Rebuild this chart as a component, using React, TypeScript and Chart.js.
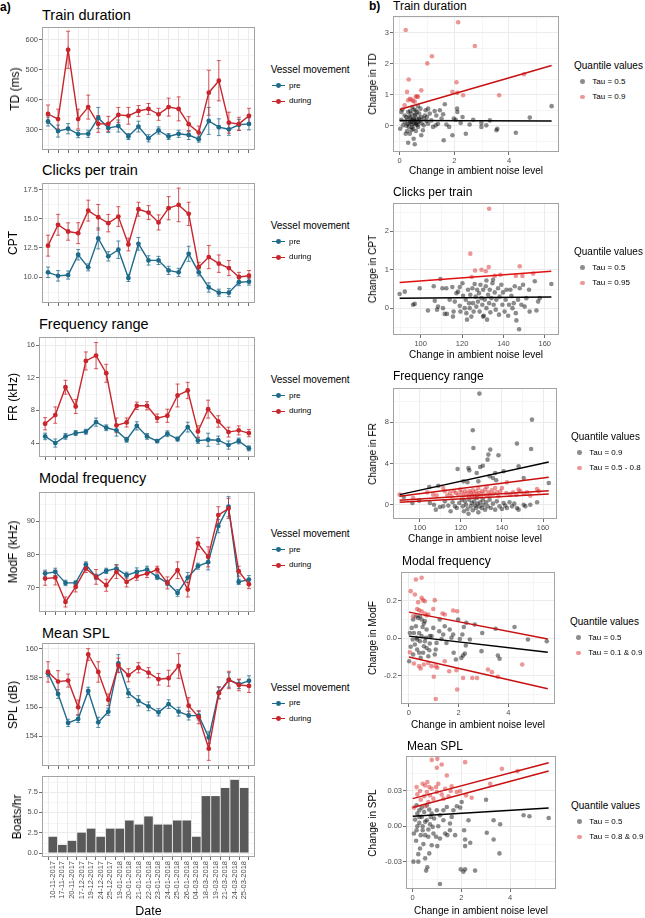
import React, { useEffect, useRef } from 'react';
import { Chart, registerables } from 'chart.js';

Chart.register(...registerables);

const FONT = '"Liberation Sans", Arial, Helvetica, sans-serif';
const GRID = '#EBEBEB';
const GRID_MINOR = '#F5F5F5';
const BORDER = '#A3A3A3';
const TICK_MARK = '#6E6E6E';
const TICK_TEXT = '#4D4D4D';
const PRE = '#1D6A8B';
const DURING = '#C8252C';
const GRAY_PT = 'rgba(0,0,0,0.45)';
const RED_PT = 'rgba(220,45,45,0.5)';
const FIT_RED = '#C81010';
const FIT_BLACK = '#000000';
const BAR = '#595959';

// ---------------- a) per-date series ----------------
const dates = [
  '10-11-2017', '17-11-2017', '20-11-2017', '17-12-2017', '19-12-2017', '24-12-2017', '25-12-2017',
  '19-01-2018', '20-01-2018', '21-01-2018', '22-01-2018', '23-01-2018', '24-01-2018', '25-01-2018',
  '26-01-2018', '04-03-2018', '18-03-2018', '19-03-2018', '21-03-2018', '24-03-2018', '25-03-2018',
];

const tdPre = [328, 296, 304, 286, 287, 340, 306, 313, 278, 311, 272, 298, 278, 287, 283, 269, 330, 309, 302, 317, 320];
const tdPreErr = [15, 20, 17, 12, 12, 35, 15, 20, 10, 18, 12, 12, 10, 12, 15, 10, 45, 28, 20, 18, 20];
const tdDuring = [353, 336, 567, 336, 376, 320, 320, 350, 347, 363, 370, 352, 376, 370, 319, 291, 424, 464, 324, 320, 347];
const tdDuringErr = [30, 33, 62, 33, 40, 28, 25, 25, 28, 18, 18, 20, 30, 40, 25, 22, 75, 67, 35, 22, 25];
const tdTicks = [300, 400, 500, 600];

const cptPre = [10.4, 10.1, 10.17, 11.92, 10.83, 13.32, 11.78, 12.35, 9.91, 12.86, 11.43, 11.43, 10.57, 10.4, 12.0, 10.4, 9.1, 8.65, 8.65, 9.55, 9.6];
const cptPreErr = [0.45, 0.45, 0.35, 0.45, 0.3, 0.9, 0.4, 0.75, 0.3, 0.55, 0.4, 0.35, 0.35, 0.35, 0.65, 0.3, 0.4, 0.3, 0.35, 0.3, 0.3];
const cptDuring = [12.7, 14.5, 13.92, 13.78, 15.72, 15.15, 14.64, 15.21, 12.8, 15.84, 15.55, 14.7, 15.93, 16.21, 15.44, 10.86, 11.72, 11.15, 10.77, 10.0, 10.11];
const cptDuringErr = [0.9, 0.9, 0.75, 0.9, 0.9, 1.1, 0.75, 0.85, 0.55, 0.6, 0.6, 0.65, 1.0, 1.45, 1.0, 0.4, 1.0, 0.75, 0.65, 0.4, 0.45];
const cptTicks = [10, 12.5, 15, 17.5];

const frPre = [4.81, 4.0, 4.81, 5.22, 5.38, 6.56, 5.87, 5.55, 4.4, 6.1, 4.81, 4.24, 5.14, 4.49, 5.95, 4.3, 4.4, 4.35, 3.75, 4.25, 3.35];
const frPreErr = [0.4, 0.5, 0.35, 0.3, 0.3, 0.5, 0.35, 0.7, 0.3, 0.5, 0.35, 0.2, 0.35, 0.25, 0.6, 0.35, 0.8, 0.5, 0.5, 0.35, 0.3];
const frDuring = [6.36, 7.42, 10.83, 8.47, 14.05, 14.7, 12.54, 6.16, 6.52, 8.56, 8.56, 7.05, 7.34, 9.82, 10.43, 5.42, 8.15, 6.64, 5.34, 5.55, 5.22];
const frDuringErr = [0.75, 1.0, 0.85, 0.85, 1.1, 1.6, 1.1, 0.9, 0.55, 0.45, 0.5, 0.5, 0.8, 1.4, 1.0, 0.7, 1.1, 0.7, 0.6, 0.55, 0.45];
const frTicks = [4, 8, 12, 16];

const modfPre = [74.3, 74.8, 71.5, 71.5, 77.0, 73.3, 75.1, 75.8, 73.8, 74.8, 75.5, 73.3, 71.5, 68.5, 73.1, 76.5, 77.7, 88.5, 94.3, 71.8, 72.5];
const modfPreErr = [1.0, 1.1, 0.8, 0.6, 0.8, 0.8, 0.8, 1.2, 0.9, 1.2, 1.0, 0.8, 0.8, 1.0, 1.5, 0.9, 2.3, 2.0, 3.0, 0.8, 1.2];
const modfDuring = [72.8, 73.1, 65.8, 70.3, 75.8, 73.3, 70.8, 74.8, 71.8, 73.5, 74.3, 75.5, 71.5, 75.3, 69.5, 83.3, 79.3, 91.8, 93.8, 75.0, 71.1];
const modfDuringErr = [2.0, 2.2, 1.5, 1.5, 1.2, 2.2, 1.8, 2.0, 1.5, 1.2, 1.2, 1.0, 1.8, 2.5, 2.2, 1.8, 3.0, 2.5, 3.0, 1.5, 1.3];
const modfTicks = [70, 80, 90];

const splPre = [158.32, 156.89, 154.91, 155.18, 157.11, 154.95, 155.68, 159.0, 156.95, 156.43, 156.05, 155.64, 156.2, 155.68, 155.41, 155.41, 153.9, 157.0, 157.86, 157.57, 157.8];
const splPreErr = [0.2, 0.3, 0.25, 0.25, 0.25, 0.35, 0.25, 0.6, 0.3, 0.35, 0.3, 0.25, 0.3, 0.3, 0.3, 0.3, 0.4, 0.4, 0.5, 0.3, 0.35];
const splDuring = [158.41, 157.75, 157.82, 155.98, 159.61, 158.41, 156.5, 158.86, 158.18, 158.7, 158.36, 157.91, 157.98, 158.82, 156.09, 155.3, 153.14, 156.95, 157.86, 157.52, 157.45];
const splDuringErr = [0.7, 0.75, 0.45, 0.5, 0.4, 0.7, 0.4, 0.5, 0.45, 0.35, 0.35, 0.4, 0.55, 0.85, 0.55, 0.45, 0.8, 0.4, 0.6, 0.4, 0.45];
const splTicks = [154, 156, 158, 160];

const boatsPerHour = [2, 1, 1.5, 2.5, 3, 2, 3, 3, 4, 3.5, 4.5, 3.5, 3.5, 4, 4, 2, 7, 7, 8, 9, 8];
const boatTicks = [0, 2.5, 5, 7.5];

// ---------------- b) quantile regressions ----------------
type P = [number, number];

const tdGray: P[] = [
  [0.02, -0.10], [0.06, 0.19], [0.12, 0.01], [0.18, 0.12], [0.24, 0.28], [0.31, 0.44], [0.43, 0.39], [0.49, 0.23],
  [0.55, 0.33], [0.61, 0.09], [0.63, 0.44], [0.71, 0.39], [0.37, 0.09], [0.49, -0.10], [0.59, -0.17], [0.27, -0.17],
  [0.18, 0.33], [0.55, 0.15], [0.63, 0.23], [0.76, 0.55], [0.92, 0.33], [0.98, 0.15], [0.43, 0.17], [0.34, -0.04],
  [0.06, 0.44], [0.10, 0.52], [0.46, 0.60], [0.67, 0.63], [0.59, 0.04], [0.39, 0.26], [0.46, 0.04], [1.34, 0.33],
  [1.53, 0.23], [0.88, 0.23], [1.04, 0.06], [0.79, 0.28], [0.27, 0.19], [0.71, 0.23], [0.51, 0.52], [1.59, 0.37],
  [1.28, 0.47], [2.56, 0.04], [5.56, 0.63], [4.76, 0.26], [4.25, -0.23], [3.54, -0.15], [3.57, -0.10], [3.30, 0.17],
  [3.17, 0.01], [2.99, 0.09], [2.99, -0.04], [2.69, 0.19], [2.42, -0.26], [2.30, 0.28], [2.23, 0.09], [2.10, 0.55],
  [2.11, 0.44], [1.93, -0.31], [1.98, 0.23], [2.05, 0.19], [1.65, 0.69], [1.61, -0.47], [1.71, 0.04], [1.81, -0.04],
  [1.47, 0.50], [1.40, 0.06], [1.32, 0.01], [1.22, -0.04], [1.16, 0.17], [1.10, 0.39], [1.04, 0.55], [0.95, 0.50],
  [0.88, 0.01], [0.79, -0.31], [0.73, 0.17], [0.67, -0.04], [0.55, -0.60], [0.51, -0.42], [0.31, -0.55], [0.22, -0.26],
  [0.37, -0.26], [0.43, -0.15], [0.35, 0.30], [0.41, 0.12], [0.53, 0.07], [0.57, 0.36], [0.65, 0.02], [0.29, 0.05],
  [0.45, -0.05], [0.69, 0.12], [0.52, 0.20], [0.38, 0.47], [0.58, 0.50], [0.25, 0.00], [0.80, 0.08], [0.85, -0.15],
  [1.00, 0.28],
];
const tdRed: P[] = [
  [0.22, 3.09], [2.14, 3.34], [2.75, 2.57], [1.18, 2.24], [1.01, 2.01], [0.33, 1.49], [0.27, 1.09], [0.79, 1.14],
  [1.93, 1.09], [2.08, 1.40], [2.11, 1.06], [2.32, 0.98], [3.64, 0.98], [4.55, 1.66], [0.31, 0.82], [0.43, 0.84],
  [0.59, 0.93], [0.63, 0.95], [0.49, 0.80], [0.18, 0.66], [0.37, 0.87], [0.67, 0.93], [0.55, 0.77],
];
const tdFitMedian: P[] = [[0, 0.17], [5.56, 0.15]];
const tdFitUpper: P[] = [[0, 0.52], [5.56, 1.94]];

const cptGray: P[] = [
  [89.8, 0.37], [92.3, 0.43], [96.3, 0.09], [97.1, 0.11], [99.5, 0.52], [103.5, -0.06], [106.3, 0.57], [106.8, 0.19],
  [107.9, -0.04], [108.4, 0.04], [109.5, 0.76], [110.5, 0.52], [110.8, 0.0], [111.6, -0.15], [112.4, 0.52], [112.7, -0.15],
  [114.0, 0.22], [115.3, 0.55], [115.6, -0.22], [115.9, -0.09], [116.5, 0.17], [117.3, 0.39], [118.1, 0.43], [118.9, 0.55],
  [119.2, -0.09], [120.2, 0.65], [120.5, 0.32], [121.3, 0.0], [121.8, 0.22], [122.1, -0.13], [122.4, -0.30], [122.9, 0.48],
  [123.4, 0.13], [123.7, 0.0], [124.0, 0.35], [124.5, -0.22], [125.0, 0.52], [125.3, 0.13], [125.6, -0.09], [126.1, 0.63],
  [126.6, 0.30], [126.9, 0.04], [127.3, 0.48], [127.7, 0.17], [128.2, 0.39], [128.5, -0.09], [128.9, 0.61], [129.4, 0.26],
  [129.8, 0.09], [130.2, 0.48], [130.5, -0.2], [131.0, 0.22], [131.5, 0.57], [131.8, 0.0], [132.1, -0.30], [132.6, 0.35],
  [133.1, 0.13], [133.4, 0.48], [133.7, -0.11], [134.2, 0.26], [134.7, 0.65], [135.0, 0.74], [135.3, 0.09], [135.8, 0.41],
  [136.3, -0.04], [136.6, 0.22], [137.4, 0.52], [137.9, -0.17], [138.2, 0.30], [139.0, 0.61], [139.5, 0.09], [139.8, 0.41],
  [140.6, -0.09], [141.1, 0.22], [141.5, 0.48], [142.3, -0.2], [142.7, 0.09], [143.4, 0.48], [143.9, 0.32], [144.4, 0.0],
  [145.0, 0.13], [145.5, 0.57], [146.0, -0.13], [146.3, -0.32], [147.6, -0.55], [147.1, 0.22], [147.9, 0.52], [148.7, 0.09],
  [149.5, 0.61], [150.3, 0.04], [151.1, 0.26], [152.4, 0.48], [152.7, -0.09], [155.2, 0.70], [156.0, -0.06], [156.8, 0.17],
  [157.6, 0.26], [163.2, 0.63], [118.9, 0.06], [130.2, -0.22], [131.8, 0.72],
];
const cptRed: P[] = [
  [133.1, 2.59], [124.0, 1.42], [126.3, 0.98], [129.4, 1.00], [131.5, 0.96], [132.9, 1.07], [147.9, 1.09], [124.7, 0.81],
  [135.8, 0.84], [138.5, 0.87], [146.0, 0.84], [149.2, 0.84], [154.4, 0.90],
];
const cptFitMedian: P[] = [[89.8, 0.26], [163.2, 0.29]];
const cptFitUpper: P[] = [[89.8, 0.67], [163.2, 0.96]];

const frGray: P[] = [
  [129.0, 10.74], [125.8, 7.20], [154.6, 8.23], [126.1, 5.50], [147.3, 5.92], [154.2, 5.40], [134.3, 5.34], [133.4, 4.86],
  [138.3, 4.79], [133.0, 4.37], [118.4, 3.47], [123.7, 3.57], [124.1, 3.34], [129.4, 3.67], [130.7, 3.79], [148.1, 3.73],
  [127.7, 3.09], [136.7, 3.09], [134.0, 2.77], [140.8, 3.25], [150.6, 2.60], [162.8, 2.12], [121.2, 2.28], [123.2, 2.19],
  [128.5, 2.28], [137.2, 2.38], [135.6, 2.60], [109.0, 1.86], [104.6, 1.74], [92.2, 0.77], [96.4, 0.19], [99.7, 0.42],
  [104.9, 0.19], [106.9, 0.03], [107.8, -0.45], [109.8, -0.19], [111.4, -0.13], [112.2, 0.35], [113.9, -0.06], [115.0, -0.61],
  [116.0, 0.26], [117.1, -0.13], [118.0, -0.29], [119.2, 0.19], [120.4, 0.51], [120.9, -0.13], [121.5, -0.61], [122.0, 0.35],
  [122.5, 0.03], [123.2, -0.39], [123.7, -0.84], [124.1, 0.51], [124.8, -0.13], [125.3, 0.19], [125.8, -0.51], [126.4, 0.35],
  [126.9, -0.06], [127.4, -0.29], [127.7, 0.68], [128.1, 0.13], [128.5, -0.71], [129.0, -0.13], [129.4, 0.26], [130.2, -0.29],
  [130.7, 0.51], [131.0, 0.03], [131.8, -0.45], [132.3, 0.26], [133.0, -0.13], [134.0, 0.51], [134.6, -0.29], [135.6, 0.13],
  [136.7, -0.45], [137.5, 0.35], [138.8, -0.13], [140.0, -0.39], [140.8, 0.19], [141.6, -0.06], [142.4, -0.29], [143.7, 0.26],
  [144.9, -0.13], [146.0, 0.13], [147.3, -0.29], [148.1, -0.45], [150.6, 0.03], [153.8, 0.03], [157.1, 0.26], [151.4, -0.13],
];
const frRed: P[] = [
  [90.2, 1.0], [96.7, 0.68], [103.6, 1.22], [106.5, 1.0], [108.2, 0.90], [111.4, 1.64], [112.2, 1.32], [113.4, 0.90],
  [114.7, 1.16], [115.5, 0.84], [116.6, 1.32], [117.6, 1.16], [118.8, 1.0], [119.6, 1.48], [120.4, 1.22], [121.2, 0.90],
  [122.0, 1.32], [122.8, 1.09], [123.7, 0.84], [124.1, 1.32], [124.8, 1.16], [125.3, 0.90], [125.8, 1.41], [126.4, 1.09],
  [126.9, 0.84], [127.4, 1.32], [128.1, 1.0], [128.5, 1.64], [129.0, 1.16], [129.7, 0.84], [130.2, 1.32], [131.0, 1.09],
  [131.8, 1.48], [132.6, 0.90], [133.4, 1.22], [134.3, 1.0], [135.1, 1.41], [135.9, 1.09], [136.7, 1.64], [137.5, 1.22],
  [138.3, 0.84], [139.2, 1.32], [140.0, 1.64], [142.1, 1.16], [144.0, 1.0], [145.4, 1.22], [147.0, 1.0], [148.1, 1.48],
  [148.9, 1.32], [150.6, 1.09], [152.2, 1.22], [153.8, 0.90], [157.1, 1.54], [157.9, 1.32], [142.4, 2.19], [132.6, 1.74],
];
const frFitUpper: P[] = [[90.2, 1.0], [162.8, 4.15]];
const frFitA: P[] = [[90.2, 0.84], [162.8, 2.67]];
const frFitB: P[] = [[90.2, 0.45], [162.8, 1.38]];
const frFitC: P[] = [[90.2, 0.26], [162.8, 1.06]];

const modfGray: P[] = [
  [4.25, 0.060], [4.79, -0.007], [5.55, -0.016], [3.49, 0.050], [2.95, 0.028], [2.65, 0.073], [2.31, 0.082], [2.21, 0.060],
  [2.15, 0.020], [2.05, -0.004], [2.29, -0.039], [2.25, -0.082], [2.18, -0.092], [2.11, -0.105], [1.89, -0.114], [1.80, -0.078],
  [1.78, 0.020], [1.71, 0.002], [1.64, 0.046], [1.51, -0.025], [1.44, 0.064], [1.38, 0.020], [1.31, -0.004], [1.24, 0.100],
  [1.22, 0.037], [1.11, -0.025], [1.08, -0.060], [1.04, -0.087], [0.98, 0.055], [0.91, 0.011], [0.84, -0.028], [0.82, -0.064],
  [0.78, -0.096], [0.71, 0.046], [0.68, 0.002], [0.64, 0.091], [0.60, -0.043], [0.57, -0.078], [0.55, 0.060], [0.51, 0.011],
  [0.47, -0.105], [0.44, -0.016], [0.41, 0.028], [0.37, 0.108], [0.33, -0.060], [0.31, 0.002], [0.28, 0.064], [0.24, -0.034],
  [0.20, 0.028], [0.17, -0.087], [0.15, -0.007], [0.11, 0.055], [0.07, -0.046], [0.04, 0.028], [0.01, -0.123], [0.51, 0.100],
  [0.60, 0.078], [0.71, -0.052], [0.33, -0.007], [0.64, -0.016], [0.84, 0.011], [0.41, -0.078], [3.58, -0.092], [3.65, -0.110],
  [2.92, -0.069], [2.45, -0.007], [1.98, 0.100], [0.28, 0.117], [0.44, 0.117], [0.17, 0.100],
];
const modfRed: P[] = [
  [0.28, 0.313], [0.51, 0.322], [0.07, 0.251], [0.24, 0.233], [0.37, 0.192], [0.51, 0.215], [0.57, 0.203], [0.64, 0.197],
  [1.04, 0.203], [0.33, 0.156], [0.41, 0.149], [0.51, 0.144], [0.64, 0.132], [0.78, 0.126], [0.98, 0.156], [1.35, 0.132],
  [1.78, 0.148], [1.94, 0.144], [1.44, 0.126], [0.17, 0.117], [0.04, -0.075], [0.20, -0.135], [0.41, -0.149], [0.47, -0.162],
  [0.60, -0.140], [0.78, -0.132], [0.91, -0.149], [1.00, -0.206], [1.08, -0.149], [1.14, -0.158], [1.08, -0.324], [1.44, -0.123],
  [1.91, -0.171], [1.94, -0.274], [2.18, -0.212], [2.55, -0.212], [2.74, -0.212], [3.18, -0.167], [3.34, -0.181], [3.58, -0.206],
  [4.56, -0.140], [1.62, -0.176], [0.71, 0.121],
];
const modfFitMedian: P[] = [[0, 0.011], [5.59, -0.075]];
const modfFitUpper: P[] = [[0, 0.139], [5.59, -0.004]];
const modfFitLower: P[] = [[0, -0.10], [5.59, -0.27]];

const splGray: P[] = [
  [5.58, 0.0070], [4.55, 0.0093], [4.79, 0.0085], [3.59, 0.0017], [3.32, 0.0051], [3.01, 0.0225], [3.04, -0.0056], [3.32, -0.0113],
  [3.56, -0.0231], [2.56, -0.0377], [2.36, -0.0141], [2.29, 0.0051], [2.11, -0.0034], [2.15, -0.0113], [2.15, -0.0169], [1.97, -0.0366],
  [2.08, -0.0386], [2.15, -0.0366], [1.12, -0.0490], [1.01, -0.0169], [0.96, -0.0090], [0.85, -0.0062], [0.71, 0.0017], [0.64, -0.0028],
  [0.58, 0.0051], [0.51, -0.0076], [0.44, -0.0152], [0.41, 0.0], [0.37, 0.0079], [0.33, -0.0076], [0.30, -0.0189], [0.27, 0.0028],
  [0.23, -0.0237], [0.19, 0.0107], [0.16, -0.0034], [0.14, -0.0124], [0.10, 0.0056], [0.05, -0.0062], [0.03, -0.0301], [0.23, -0.0301],
  [0.51, -0.0273], [0.55, -0.0377], [0.60, -0.0349], [0.68, -0.0231], [0.78, -0.0161], [1.12, -0.0104], [1.33, -0.0062], [1.42, -0.0076],
  [1.53, -0.0034], [1.60, 0.0079], [1.67, 0.0135], [1.81, 0.0169], [1.95, 0.0158], [2.01, 0.0206], [1.40, 0.0163], [1.26, 0.0135],
  [1.12, 0.0093], [0.99, 0.0135], [0.88, 0.0065], [0.78, 0.0107], [0.68, 0.0141], [0.58, 0.0177], [0.47, 0.0121], [0.37, 0.0158],
  [0.27, 0.0135], [0.16, 0.0177], [0.74, 0.0079], [0.51, 0.0037], [0.41, -0.0034], [0.64, -0.0090], [0.82, -0.0006], [1.05, 0.0],
  [1.26, 0.0051], [1.53, 0.0023], [1.74, -0.0076], [0.19, 0.0], [0.27, 0.0079],
];
const splRed: P[] = [
  [0.78, 0.0563], [1.01, 0.0572], [1.19, 0.0524], [0.99, 0.0496], [2.15, 0.0544], [3.66, 0.0487], [4.30, 0.0468], [1.40, 0.0431],
  [1.05, 0.0361], [1.60, 0.0338], [1.33, 0.0318], [1.81, 0.0290], [1.95, 0.0299], [2.19, 0.0262], [2.42, 0.0242], [3.18, 0.0361],
  [0.16, 0.0332], [0.30, 0.0299], [0.41, 0.0361], [0.51, 0.0346], [0.60, 0.0375], [0.68, 0.0332], [0.58, 0.0290], [0.47, 0.0254],
  [0.33, 0.0225], [0.19, 0.0270], [0.71, 0.0262], [0.85, 0.0234], [0.99, 0.0290], [1.19, 0.0270], [1.26, 0.0234], [1.47, 0.0254],
  [1.56, 0.0299], [0.64, 0.0206], [0.78, 0.0318], [0.96, 0.0332], [0.05, 0.0158], [0.51, 0.0169],
];
const splFitMedian: P[] = [[0, 0.0085], [5.58, 0.0155]];
const splFitUpper: P[] = [[0, 0.0234], [5.58, 0.0538]];
const splFitLower: P[] = [[0, 0.0158], [5.58, 0.0468]];

// ---------------- helpers ----------------
function minorOf(ticks: number[], min: number, max: number) {
  const step = ticks[1] - ticks[0];
  const out: number[] = [];
  for (let v = ticks[0] - step / 2; v <= max + 1e-9; v += step) if (v >= min) out.push(v);
  return out;
}

function framePlugin(minorX: number[], minorY: number[]) {
  return {
    id: 'frame',
    beforeDraw(chart: any) {
      const { ctx, chartArea: a, scales } = chart;
      ctx.save();
      ctx.fillStyle = '#ffffff';
      ctx.fillRect(a.left, a.top, a.right - a.left, a.bottom - a.top);
      ctx.strokeStyle = GRID_MINOR;
      ctx.lineWidth = 1;
      ctx.beginPath();
      minorX.forEach((v) => {
        const p = Math.round(scales.x.getPixelForValue(v)) + 0.5;
        ctx.moveTo(p, a.top);
        ctx.lineTo(p, a.bottom);
      });
      minorY.forEach((v) => {
        const p = Math.round(scales.y.getPixelForValue(v)) + 0.5;
        ctx.moveTo(a.left, p);
        ctx.lineTo(a.right, p);
      });
      ctx.stroke();
      ctx.restore();
    },
    afterDraw(chart: any) {
      const { ctx, chartArea: a } = chart;
      ctx.save();
      ctx.strokeStyle = BORDER;
      ctx.lineWidth = 1;
      const l = Math.round(a.left) + 0.5;
      const t = Math.round(a.top) + 0.5;
      const r = Math.round(a.right) - 0.5;
      const b = Math.round(a.bottom) - 0.5;
      ctx.strokeRect(l, t, r - l, b - t);
      ctx.restore();
    },
  };
}

function errorBarPlugin(sets: { values: number[]; errors: number[]; color: string }[]) {
  return {
    id: 'errorBars',
    beforeDatasetsDraw(chart: any) {
      const { ctx, scales } = chart;
      sets.forEach(({ values, errors, color }) => {
        ctx.save();
        ctx.strokeStyle = color;
        ctx.globalAlpha = 0.75;
        ctx.lineWidth = 1;
        ctx.beginPath();
        values.forEach((v, i) => {
          const x = scales.x.getPixelForValue(i);
          const y1 = scales.y.getPixelForValue(v - errors[i]);
          const y2 = scales.y.getPixelForValue(v + errors[i]);
          ctx.moveTo(x, y1);
          ctx.lineTo(x, y2);
          ctx.moveTo(x - 2, y1);
          ctx.lineTo(x + 2, y1);
          ctx.moveTo(x - 2, y2);
          ctx.lineTo(x + 2, y2);
        });
        ctx.stroke();
        ctx.restore();
      });
    },
  };
}

const tickFont = { family: FONT, size: 7.5 };

function yAxis(min: number, max: number, ticks: number[], decimals: number, width: number) {
  return {
    type: 'linear',
    position: 'left',
    min,
    max,
    afterBuildTicks: (ax: any) => {
      ax.ticks = ticks.map((v) => ({ value: v }));
    },
    afterFit: (ax: any) => {
      ax.width = width;
    },
    ticks: {
      autoSkip: false,
      callback: (v: any) => Number(v).toFixed(decimals),
      font: tickFont,
      color: TICK_TEXT,
      padding: 1,
    },
    grid: { color: GRID, tickColor: TICK_MARK, tickLength: 3, lineWidth: 1 },
    border: { display: false },
  };
}

function xValueAxis(min: number, max: number, ticks: number[], decimals: number, height: number) {
  return {
    type: 'linear',
    position: 'bottom',
    min,
    max,
    afterBuildTicks: (ax: any) => {
      ax.ticks = ticks.map((v) => ({ value: v }));
    },
    afterFit: (ax: any) => {
      ax.height = height;
    },
    ticks: {
      autoSkip: false,
      maxRotation: 0,
      callback: (v: any) => Number(v).toFixed(decimals),
      font: tickFont,
      color: TICK_TEXT,
      padding: 1,
    },
    grid: { color: GRID, tickColor: TICK_MARK, tickLength: 3, lineWidth: 1 },
    border: { display: false },
  };
}

function xDateAxis(showLabels: boolean, height: number) {
  return {
    type: 'linear',
    position: 'bottom',
    min: -0.6,
    max: dates.length - 0.4,
    afterBuildTicks: (ax: any) => {
      ax.ticks = dates.map((_, i) => ({ value: i }));
    },
    afterFit: (ax: any) => {
      ax.height = height;
    },
    ticks: {
      display: showLabels,
      autoSkip: false,
      minRotation: 90,
      maxRotation: 90,
      callback: (v: any) => dates[Math.round(Number(v))] ?? '',
      font: tickFont,
      color: TICK_TEXT,
      padding: 1,
    },
    grid: { color: GRID, tickColor: TICK_MARK, tickLength: 3, lineWidth: 1 },
    border: { display: false },
  };
}

type Rect = { l: number; t: number; r: number; b: number };

function ChartCanvas(props: { left: number; top: number; width: number; height: number; build: () => any }) {
  const ref = useRef<HTMLCanvasElement>(null);
  useEffect(() => {
    const chart = new Chart(ref.current as HTMLCanvasElement, props.build());
    return () => chart.destroy();
  }, []);
  return (
    <canvas
      ref={ref}
      width={props.width}
      height={props.height}
      style={{ position: 'absolute', left: props.left, top: props.top, width: props.width, height: props.height }}
    />
  );
}

function Txt(props: {
  x: number;
  y: number;
  size: number;
  children: any;
  align?: 'left' | 'center' | 'right';
  rotate?: boolean;
  bold?: boolean;
  color?: string;
}) {
  const align = props.align ?? 'left';
  const tx = align === 'left' ? '0' : align === 'center' ? '-50%' : '-100%';
  return (
    <div
      style={{
        position: 'absolute',
        left: props.x,
        top: props.y,
        fontSize: props.size,
        fontWeight: props.bold ? 700 : 400,
        color: props.color ?? '#000',
        whiteSpace: 'nowrap',
        lineHeight: 1,
        fontFamily: FONT,
        transform: props.rotate ? 'translate(-50%,-50%) rotate(-90deg)' : `translate(${tx},-50%)`,
      }}
    >
      {props.children}
    </div>
  );
}

// ---------------- panel a) line chart ----------------
const PAD_T = 10;
const PAD_R = 8;

function LinePanel(props: {
  rect: Rect;
  yMin: number;
  yMax: number;
  ticks: number[];
  decimals: number;
  pre: number[];
  preErr: number[];
  during: number[];
  duringErr: number[];
}) {
  const { rect, yMin, yMax, ticks, decimals } = props;
  const xH = 10;
  const width = rect.r + PAD_R;
  const height = rect.b - rect.t + PAD_T + xH;
  const build = () => ({
    type: 'line',
    data: {
      datasets: [
        {
          label: 'during',
          data: props.during.map((y, i) => ({ x: i, y })),
          borderColor: DURING,
          backgroundColor: DURING,
          pointBackgroundColor: DURING,
          pointRadius: 2.4,
          pointBorderWidth: 0,
          borderWidth: 1.4,
          order: 0,
        },
        {
          label: 'pre',
          data: props.pre.map((y, i) => ({ x: i, y })),
          borderColor: PRE,
          backgroundColor: PRE,
          pointBackgroundColor: PRE,
          pointRadius: 2.4,
          pointBorderWidth: 0,
          borderWidth: 1.4,
          order: 1,
        },
      ],
    },
    options: {
      responsive: false,
      animation: false,
      devicePixelRatio: 1,
      layout: { padding: { top: PAD_T, right: PAD_R, left: 0, bottom: 0 } },
      plugins: { legend: { display: false }, tooltip: { enabled: false } },
      scales: {
        x: xDateAxis(false, xH),
        y: yAxis(yMin, yMax, ticks, decimals, rect.l),
      },
    },
    plugins: [
      framePlugin([], minorOf(ticks, yMin, yMax)),
      errorBarPlugin([
        { values: props.pre, errors: props.preErr, color: PRE },
        { values: props.during, errors: props.duringErr, color: DURING },
      ]),
    ],
  });
  return <ChartCanvas left={0} top={rect.t - PAD_T} width={width} height={height} build={build} />;
}

function BarPanel(props: { rect: Rect; yMin: number; yMax: number }) {
  const { rect, yMin, yMax } = props;
  const xH = 61;
  const width = rect.r + PAD_R;
  const height = rect.b - rect.t + PAD_T + xH;
  const build = () => ({
    type: 'bar',
    data: {
      datasets: [
        {
          label: 'Boats/hr',
          data: boatsPerHour.map((y, i) => ({ x: i, y })),
          backgroundColor: BAR,
          borderWidth: 0,
          barPercentage: 0.9,
          categoryPercentage: 1,
        },
      ],
    },
    options: {
      responsive: false,
      animation: false,
      devicePixelRatio: 1,
      layout: { padding: { top: PAD_T, right: PAD_R, left: 0, bottom: 0 } },
      plugins: { legend: { display: false }, tooltip: { enabled: false } },
      scales: {
        x: xDateAxis(true, xH),
        y: yAxis(yMin, yMax, boatTicks, 1, rect.l),
      },
    },
    plugins: [framePlugin([], minorOf(boatTicks, yMin, yMax))],
  });
  return <ChartCanvas left={0} top={rect.t - PAD_T} width={width} height={height} build={build} />;
}

// ---------------- panel b) scatter ----------------
function ScatterPanel(props: {
  rect: Rect;
  xMin: number;
  xMax: number;
  yMin: number;
  yMax: number;
  xTicks: number[];
  yTicks: number[];
  xDec: number;
  yDec: number;
  gray: P[];
  red: P[];
  fits: { pts: P[]; color: string }[];
}) {
  const { rect } = props;
  const yW = 28;
  const xH = 14;
  const padR = 12;
  const width = rect.r - rect.l + yW + padR;
  const height = rect.b - rect.t + PAD_T + xH;
  const build = () => ({
    type: 'scatter',
    data: {
      datasets: [
        ...props.fits.map((f) => ({
          type: 'line',
          data: f.pts.map(([x, y]) => ({ x, y })),
          borderColor: f.color,
          borderWidth: 1.5,
          pointRadius: 0,
          showLine: true,
          fill: false,
          order: 0,
        })),
        {
          label: 'gray',
          data: props.gray.map(([x, y]) => ({ x, y })),
          backgroundColor: GRAY_PT,
          borderWidth: 0,
          pointRadius: 2.3,
          order: 2,
        },
        {
          label: 'red',
          data: props.red.map(([x, y]) => ({ x, y })),
          backgroundColor: RED_PT,
          borderWidth: 0,
          pointRadius: 2.3,
          order: 1,
        },
      ],
    },
    options: {
      responsive: false,
      animation: false,
      devicePixelRatio: 1,
      layout: { padding: { top: PAD_T, right: padR, left: 0, bottom: 0 } },
      plugins: { legend: { display: false }, tooltip: { enabled: false } },
      scales: {
        x: xValueAxis(props.xMin, props.xMax, props.xTicks, props.xDec, xH),
        y: yAxis(props.yMin, props.yMax, props.yTicks, props.yDec, yW),
      },
    },
    plugins: [
      framePlugin(minorOf(props.xTicks, props.xMin, props.xMax), minorOf(props.yTicks, props.yMin, props.yMax)),
    ],
  });
  return <ChartCanvas left={rect.l - yW} top={rect.t - PAD_T} width={width} height={height} build={build} />;
}

function VesselLegend({ y }: { y: number }) {
  const item = (cy: number, color: string, label: string) => (
    <>
      <div style={{ position: 'absolute', left: 272, top: cy - 0.7, width: 13, height: 1.4, background: color }} />
      <div
        style={{
          position: 'absolute',
          left: 278.5 - 2.4,
          top: cy - 2.4,
          width: 4.8,
          height: 4.8,
          borderRadius: '50%',
          background: color,
        }}
      />
      <Txt x={289} y={cy} size={8}>
        {label}
      </Txt>
    </>
  );
  return (
    <>
      <Txt x={270.7} y={y} size={10}>
        Vessel movement
      </Txt>
      {item(y + 15.7, PRE, 'pre')}
      {item(y + 31.3, DURING, 'during')}
    </>
  );
}

function QuantLegend({ x, y, a, b }: { x: number; y: number; a: string; b: string }) {
  const item = (cy: number, color: string, label: string) => (
    <>
      <div
        style={{
          position: 'absolute',
          left: x + 8.7 - 2.3,
          top: cy - 2.3,
          width: 4.6,
          height: 4.6,
          borderRadius: '50%',
          background: color,
        }}
      />
      <Txt x={x + 18.3} y={cy} size={8}>
        {label}
      </Txt>
    </>
  );
  return (
    <>
      <Txt x={x} y={y} size={10}>
        Quantile values
      </Txt>
      {item(y + 15.5, GRAY_PT, a)}
      {item(y + 31, RED_PT, b)}
    </>
  );
}

// layout rectangles (page pixels)
const A1: Rect = { l: 42, t: 27, r: 255, b: 150 };
const A2: Rect = { l: 42, t: 183, r: 255, b: 303 };
const A3: Rect = { l: 39, t: 337, r: 255, b: 457 };
const A4: Rect = { l: 39, t: 492, r: 255, b: 612 };
const A5: Rect = { l: 42, t: 643, r: 255, b: 766 };
const A6: Rect = { l: 42, t: 776, r: 255, b: 857 };

const B1: Rect = { l: 393, t: 16, r: 559, b: 152 };
const B2: Rect = { l: 393, t: 203, r: 559, b: 335 };
const B3: Rect = { l: 393, t: 388, r: 557, b: 519 };
const B4: Rect = { l: 401, t: 572, r: 555, b: 704 };
const B5: Rect = { l: 406, t: 756, r: 556, b: 889 };

const cy = (r: Rect) => (r.t + r.b) / 2;
const cx = (r: Rect) => (r.l + r.r) / 2;

export default function App() {
  return (
    <div
      style={{
        position: 'absolute',
        left: 0,
        top: 0,
        width: 645,
        height: 918,
        background: '#fff',
        overflow: 'hidden',
        fontFamily: FONT,
      }}
    >
      <Txt x={0} y={7} size={12} bold>
        a)
      </Txt>
      <Txt x={369} y={6} size={12} bold>
        b)
      </Txt>

      {/* ---- a) ---- */}
      <Txt x={42} y={15} size={14.5}>Train duration</Txt>
      <LinePanel rect={A1} yMin={233} yMax={643} ticks={tdTicks} decimals={0}
        pre={tdPre} preErr={tdPreErr} during={tdDuring} duringErr={tdDuringErr} />
      <Txt x={15} y={cy(A1)} size={12} rotate>TD (ms)</Txt>
      <VesselLegend y={70} />

      <Txt x={42} y={169.5} size={14.5}>Clicks per train</Txt>
      <LinePanel rect={A2} yMin={7.76} yMax={18.1} ticks={cptTicks} decimals={1}
        pre={cptPre} preErr={cptPreErr} during={cptDuring} duringErr={cptDuringErr} />
      <Txt x={13} y={cy(A2)} size={12} rotate>CPT</Txt>
      <VesselLegend y={226} />

      <Txt x={39} y={323.5} size={14.5}>Frequency range</Txt>
      <LinePanel rect={A3} yMin={2.29} yMax={16.98} ticks={frTicks} decimals={0}
        pre={frPre} preErr={frPreErr} during={frDuring} duringErr={frDuringErr} />
      <Txt x={13} y={cy(A3)} size={12} rotate>FR (kHz)</Txt>
      <VesselLegend y={380} />

      <Txt x={39} y={478} size={14.5}>Modal frequency</Txt>
      <LinePanel rect={A4} yMin={62.8} yMax={98.7} ticks={modfTicks} decimals={0}
        pre={modfPre} preErr={modfPreErr} during={modfDuring} duringErr={modfDuringErr} />
      <Txt x={13} y={cy(A4)} size={12} rotate>ModF (kHz)</Txt>
      <VesselLegend y={534} />

      <Txt x={42} y={632.5} size={14.5}>Mean SPL</Txt>
      <LinePanel rect={A5} yMin={151.95} yMax={160.4} ticks={splTicks} decimals={0}
        pre={splPre} preErr={splPreErr} during={splDuring} duringErr={splDuringErr} />
      <Txt x={13} y={cy(A5)} size={12} rotate>SPL (dB)</Txt>
      <VesselLegend y={687.5} />

      <BarPanel rect={A6} yMin={-0.49} yMax={9.47} />
      <Txt x={17} y={cy(A6)} size={12} rotate>Boats/hr</Txt>
      <Txt x={cx(A6)} y={911} size={12.5} align="center">Date</Txt>

      {/* ---- b) ---- */}
      <Txt x={393} y={6} size={12}>Train duration</Txt>
      <ScatterPanel rect={B1} xMin={-0.245} xMax={5.83} yMin={-0.85} yMax={3.54} xTicks={[0, 2, 4]} yTicks={[0, 1, 2, 3]}
        xDec={0} yDec={0} gray={tdGray} red={tdRed}
        fits={[{ pts: tdFitMedian, color: FIT_BLACK }, { pts: tdFitUpper, color: FIT_RED }]} />
      <Txt x={373} y={cy(B1)} size={10} rotate>Change in TD</Txt>
      <Txt x={cx(B1)} y={171} size={10} align="center">Change in ambient noise level</Txt>
      <QuantLegend x={574} y={66} a="Tau = 0.5" b="Tau = 0.9" />

      <Txt x={393} y={192} size={12}>Clicks per train</Txt>
      <ScatterPanel rect={B2} xMin={86.6} xMax={166.9} yMin={-0.7} yMax={2.74} xTicks={[100, 120, 140, 160]} yTicks={[0, 1, 2]}
        xDec={0} yDec={0} gray={cptGray} red={cptRed}
        fits={[{ pts: cptFitMedian, color: FIT_BLACK }, { pts: cptFitUpper, color: '#E01010' }]} />
      <Txt x={373} y={cy(B2)} size={10} rotate>Change in CPT</Txt>
      <Txt x={cx(B2)} y={355} size={10} align="center">Change in ambient noise level</Txt>
      <QuantLegend x={574} y={252} a="Tau = 0.5" b="Tau = 0.95" />

      <Txt x={393} y={376} size={12}>Frequency range</Txt>
      <ScatterPanel rect={B3} xMin={86.95} xMax={166.8} yMin={-1.35} yMax={11.28} xTicks={[100, 120, 140, 160]} yTicks={[0, 4, 8]}
        xDec={0} yDec={0} gray={frGray} red={frRed}
        fits={[
          { pts: frFitUpper, color: FIT_BLACK },
          { pts: frFitA, color: FIT_RED },
          { pts: frFitB, color: FIT_RED },
          { pts: frFitC, color: FIT_RED },
        ]} />
      <Txt x={373} y={cy(B3)} size={10} rotate>Change in FR</Txt>
      <Txt x={cx(B3)} y={539} size={10} align="center">Change in ambient noise level</Txt>
      <QuantLegend x={571} y={437} a="Tau = 0.9" b="Tau = 0.5 - 0.8" />

      <Txt x={402} y={560.5} size={12}>Modal frequency</Txt>
      <ScatterPanel rect={B4} xMin={-0.32} xMax={5.88} yMin={-0.351} yMax={0.353} xTicks={[0, 2, 4]} yTicks={[-0.2, 0, 0.2]}
        xDec={0} yDec={1} gray={modfGray} red={modfRed}
        fits={[
          { pts: modfFitMedian, color: FIT_BLACK },
          { pts: modfFitUpper, color: FIT_RED },
          { pts: modfFitLower, color: FIT_RED },
        ]} />
      <Txt x={373} y={cy(B4)} size={10} rotate>Change in ModF</Txt>
      <Txt x={cx(B4)} y={725} size={10} align="center">Change in ambient noise level</Txt>
      <QuantLegend x={570} y={622} a="Tau = 0.5" b="Tau = 0.1 & 0.9" />

      <Txt x={407} y={746} size={12}>Mean SPL</Txt>
      <ScatterPanel rect={B5} xMin={-0.275} xMax={5.88} yMin={-0.0533} yMax={0.0596} xTicks={[0, 2, 4]} yTicks={[-0.03, 0, 0.03]}
        xDec={0} yDec={2} gray={splGray} red={splRed}
        fits={[
          { pts: splFitMedian, color: FIT_BLACK },
          { pts: splFitUpper, color: FIT_RED },
          { pts: splFitLower, color: FIT_RED },
        ]} />
      <Txt x={373} y={cy(B5)} size={10} rotate>Change in SPL</Txt>
      <Txt x={cx(B5)} y={911} size={10} align="center">Change in ambient noise level</Txt>
      <QuantLegend x={571} y={806} a="Tau = 0.5" b="Tau = 0.8 & 0.9" />
    </div>
  );
}
